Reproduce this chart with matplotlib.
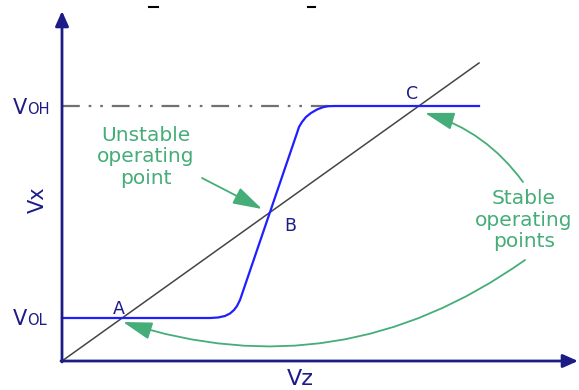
import matplotlib
matplotlib.use('Agg')
import matplotlib.pyplot as plt
from matplotlib.patches import FancyArrowPatch

# coordinates: x, y measured from the axis origin (y up), one unit ~ one pixel
v_ol = 43
v_oh = 255

# load line Vx = Vz / gain (straight diagonal)
line_x = [0, 417]
line_y = [0, 298]

# inverter transfer curve
vtc_x = [0, 148, 156, 163, 168, 172, 175, 178, 235, 237, 240, 244, 249, 255, 261, 266, 273, 417]
vtc_y = [43, 43, 43.5, 45, 47.5, 51, 55, 61, 228, 234, 239, 244, 248, 251.5, 253.8, 254.8, 255, 255]

# labelled points
pt_names = ['A', 'B', 'C']
pt_x = [57, 228, 350]
pt_y = [52, 135, 267]

navy = '#1c1c86'
green = '#45ad78'
blue = '#1f1fff'
font = 'DejaVu Sans'

fig = plt.figure(figsize=(5.79, 3.90), dpi=100)
ax = fig.add_axes([0, 0, 1, 1])
ax.set_xlim(-62, 517)
ax.set_ylim(-29, 361)
ax.axis('off')

# axes with arrows
ax.annotate('', xy=(0, 350), xytext=(0, -1),
            arrowprops=dict(arrowstyle='-|>,head_length=0.9,head_width=0.4',
                            color=navy, lw=2, shrinkA=0, shrinkB=0))
ax.annotate('', xy=(516, 0), xytext=(-1, 0),
            arrowprops=dict(arrowstyle='-|>,head_length=0.9,head_width=0.4',
                            color=navy, lw=2, shrinkA=0, shrinkB=0))

# VOH reference (dash dot dot)
ax.plot([0, 273], [v_oh, v_oh], color='#707070', lw=1.6, dashes=[8, 4, 1.2, 4, 1.2, 4])

ax.plot(line_x, line_y, color='#454545', lw=1.1)
ax.plot(vtc_x, vtc_y, color=blue, lw=1.6)

for name, x, y in zip(pt_names, pt_x, pt_y):
    ax.text(x, y, name, color=navy, fontsize=12.5, family=font, ha='center', va='center')

# axis labels
ax.text(238, -18, 'Vz', color=navy, fontsize=16, family=font, ha='center', va='center')
ax.text(-24, 161, 'Vx', color=navy, fontsize=15, family=font, ha='center', va='center',
        rotation=90)
ax.text(-35, 247, 'V', color=navy, fontsize=15, family=font, ha='right', va='baseline')
ax.text(-35, 247, 'OH', color=navy, fontsize=10.5, family=font, ha='left', va='baseline')
ax.text(-35, 36, 'V', color=navy, fontsize=15, family=font, ha='right', va='baseline')
ax.text(-35, 36, 'OL', color=navy, fontsize=10.5, family=font, ha='left', va='baseline')

# annotations
ax.text(84, 204, 'Unstable\noperating\npoint', color=green, fontsize=14.5, family=font,
        ha='center', va='center', linespacing=1.15)
ax.text(462, 141, 'Stable\noperating\npoints', color=green, fontsize=14.5, family=font,
        ha='center', va='center', linespacing=1.15)

head = '-|>,head_length=0.9,head_width=0.27'
ax.add_patch(FancyArrowPatch((140, 183), (200, 152), arrowstyle=head, mutation_scale=20,
                             color=green, lw=1.3, shrinkA=0, shrinkB=0))
ax.add_patch(FancyArrowPatch((461, 179), (363, 248), arrowstyle=head, mutation_scale=20,
                             connectionstyle='arc3,rad=0.17',
                             color=green, lw=1.3, shrinkA=0, shrinkB=0))
ax.add_patch(FancyArrowPatch((463, 101), (61, 39), arrowstyle=head, mutation_scale=20,
                             connectionstyle='arc3,rad=-0.25',
                             color=green, lw=1.3, shrinkA=0, shrinkB=0))

# stray marks at top edge
ax.plot([87, 96], [354, 354], color='black', lw=1.5)
ax.plot([246, 253], [354, 354], color='black', lw=1.5)

fig.savefig('out.png', dpi=100)
